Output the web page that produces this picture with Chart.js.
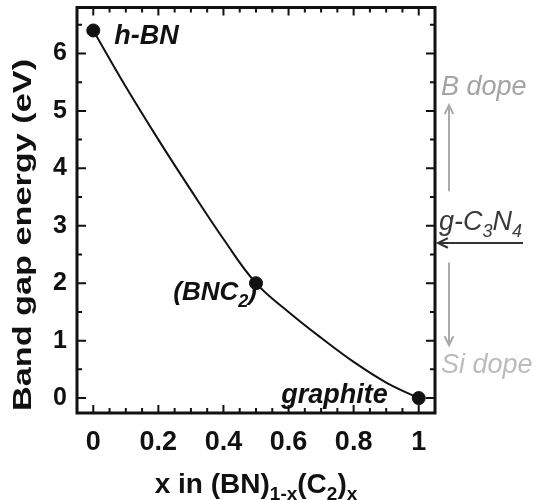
<!DOCTYPE html>
<html>
<head>
<meta charset="utf-8">
<script src="https://cdn.jsdelivr.net/npm/chart.js@4.4.1/dist/chart.umd.min.js"></script>
<style>
  body { margin: 0; background: #fff; }
  #wrap { width: 542px; height: 500px; }
</style>
</head>
<body>
<div id="wrap"><canvas id="gapChart"></canvas></div>
<script>
// fitted band gap curve
const curveX = [0, 0.1, 0.2, 0.3, 0.4, 0.5, 0.6, 0.7, 0.8, 0.9, 1];
const curveGap = [6.4, 5.42, 4.5, 3.62, 2.77, 2.0, 1.5, 1.05, 0.63, 0.27, 0];
// calculated points
const pointX = [0, 0.5, 1];
const pointGap = [6.4, 2.0, 0];
// axes
const xTicks = [0, 0.2, 0.4, 0.6, 0.8, 1];
const yTicks = [0, 1, 2, 3, 4, 5, 6];
// reference levels on the right side
const gC3N4Gap = 2.7;
const bDopeLevel = 5.44;
const siDopeLevel = 0.59;

const FONT = '"Liberation Sans", Arial, sans-serif';

function drawParts(ctx, parts, x, y, size, weight, style) {
    // draws text pieces left to right, subscripts smaller and lower
    let cx = x;
    parts.forEach(p => {
        const s = p.sub ? Math.round(size * 0.68) : size;
        ctx.font = `${style} ${weight} ${s}px ${FONT}`;
        ctx.fillText(p.t, cx, p.sub ? y + size * 0.25 : y);
        cx += ctx.measureText(p.t).width;
    });
    return cx - x;
}

function measureParts(ctx, parts, size, weight, style) {
    let w = 0;
    parts.forEach(p => {
        const s = p.sub ? Math.round(size * 0.68) : size;
        ctx.font = `${style} ${weight} ${s}px ${FONT}`;
        w += ctx.measureText(p.t).width;
    });
    return w;
}

function arrow(ctx, x1, y1, x2, y2, color, head) {
    const a = Math.atan2(y2 - y1, x2 - x1);
    ctx.strokeStyle = color;
    ctx.lineWidth = 2;
    ctx.beginPath();
    ctx.moveTo(x1, y1);
    ctx.lineTo(x2, y2);
    ctx.moveTo(x2 - head * Math.cos(a - 0.45), y2 - head * Math.sin(a - 0.45));
    ctx.lineTo(x2, y2);
    ctx.lineTo(x2 - head * Math.cos(a + 0.45), y2 - head * Math.sin(a + 0.45));
    ctx.stroke();
}

const framePlugin = {
    id: 'frame',
    afterDraw(chart) {
        const ctx = chart.ctx;
        const area = chart.chartArea;
        const xs = chart.scales.x;
        const ys = chart.scales.y;
        ctx.save();

        // frame
        ctx.strokeStyle = '#111';
        ctx.lineWidth = 3;
        ctx.strokeRect(area.left, area.top, area.right - area.left, area.bottom - area.top);

        // inward ticks
        ctx.lineWidth = 2;
        ctx.beginPath();
        for (let i = 0; i <= 20; i++) {
            const v = i * 0.05;
            const px = xs.getPixelForValue(v);
            const len = i % 4 === 0 ? 8 : 5;
            ctx.moveTo(px, area.bottom); ctx.lineTo(px, area.bottom - len);
            ctx.moveTo(px, area.top); ctx.lineTo(px, area.top + len);
        }
        for (let i = 0; i <= 13; i++) {
            const v = i * 0.5;
            const py = ys.getPixelForValue(v);
            const len = i % 2 === 0 ? 9 : 5;
            ctx.moveTo(area.left, py); ctx.lineTo(area.left + len, py);
            ctx.moveTo(area.right, py); ctx.lineTo(area.right - len, py);
        }
        ctx.stroke();

        // point labels
        ctx.fillStyle = '#111';
        ctx.textBaseline = 'alphabetic';
        ctx.textAlign = 'left';
        let px = xs.getPixelForValue(pointX[0]), py = ys.getPixelForValue(pointGap[0]);
        drawParts(ctx, [{t: 'h-BN'}], px + 21, py + 14, 27, 'bold', 'italic');

        px = xs.getPixelForValue(pointX[1]); py = ys.getPixelForValue(pointGap[1]);
        const bnc = [{t: '(BNC'}, {t: '2', sub: true}, {t: ')'}];
        const wb = measureParts(ctx, bnc, 26, 'bold', 'italic');
        drawParts(ctx, bnc, px + 1 - wb, py + 17, 26, 'bold', 'italic');

        px = xs.getPixelForValue(pointX[2]); py = ys.getPixelForValue(pointGap[2]);
        const wg = measureParts(ctx, [{t: 'graphite'}], 27, 'bold', 'italic');
        drawParts(ctx, [{t: 'graphite'}], px - 31 - wg, py + 5, 27, 'bold', 'italic');

        // right side levels
        const rx = area.right + 6;
        ctx.fillStyle = '#a4a4a4';
        drawParts(ctx, [{t: 'B dope'}], rx, ys.getPixelForValue(bDopeLevel) + 9, 27, 'normal', 'italic');
        ctx.fillStyle = '#bcbcbc';
        drawParts(ctx, [{t: 'Si dope'}], rx, ys.getPixelForValue(siDopeLevel) + 9, 27, 'normal', 'italic');
        ctx.fillStyle = '#3a3a3a';
        drawParts(ctx, [{t: 'g-C'}, {t: '3', sub: true}, {t: 'N'}, {t: '4', sub: true}], rx - 2,
            ys.getPixelForValue(gC3N4Gap) - 13, 27, 'normal', 'italic');

        const gy = ys.getPixelForValue(gC3N4Gap);
        arrow(ctx, area.right + 88, gy, area.right + 3, gy, '#333', 11);
        const ax = area.right + 14;
        arrow(ctx, ax, ys.getPixelForValue(3.6), ax, ys.getPixelForValue(5.1), '#aaa', 10);
        arrow(ctx, ax, ys.getPixelForValue(2.36), ax, ys.getPixelForValue(0.92), '#aaa', 10);

        // axis titles
        ctx.fillStyle = '#111';
        const xt = [{t: 'x in (BN)'}, {t: '1-x', sub: true}, {t: '(C'}, {t: '2', sub: true}, {t: ')'}, {t: 'x', sub: true}];
        const wx = measureParts(ctx, xt, 28, 'bold', 'normal');
        drawParts(ctx, xt, (area.left + area.right) / 2 - wx / 2, 493, 28, 'bold', 'normal');

        ctx.translate(24, 235);
        ctx.rotate(-Math.PI / 2);
        ctx.scale(1.37, 1);
        ctx.font = `bold 25px ${FONT}`;
        ctx.textAlign = 'center';
        ctx.textBaseline = 'middle';
        ctx.fillText('Band gap energy (eV)', 0, 0);
        ctx.restore();
    }
};

function gapChart(id) {
    const ctx = document.getElementById(id).getContext('2d');
    new Chart(ctx, {
        type: 'scatter',
        data: {
            datasets: [{
                data: curveX.map((x, i) => ({x: x, y: curveGap[i]})),
                showLine: true,
                borderColor: '#111',
                borderWidth: 2,
                pointRadius: 0,
                tension: 0.4
            }, {
                data: pointX.map((x, i) => ({x: x, y: pointGap[i]})),
                backgroundColor: '#111',
                borderColor: '#111',
                pointRadius: 6.5
            }]
        },
        options: {
            responsive: true,
            maintainAspectRatio: false,
            animation: false,
            layout: { padding: { left: 0, right: 107, top: 6, bottom: 0 } },
            plugins: { legend: { display: false }, tooltip: { enabled: false } },
            scales: {
                x: {
                    type: 'linear',
                    min: -0.05,
                    max: 1.05,
                    grid: { display: false, drawTicks: false },
                    border: { display: false },
                    afterBuildTicks: s => { s.ticks = xTicks.map(v => ({value: v})); },
                    afterFit: s => { s.height = 87; s.paddingLeft = 0; s.paddingRight = 0; },
                    ticks: {
                        padding: 13,
                        color: '#111',
                        maxRotation: 0,
                        font: { family: FONT, size: 27, weight: 'bold' },
                        callback: v => String(v)
                    }
                },
                y: {
                    type: 'linear',
                    min: -0.26,
                    max: 6.8,
                    grid: { display: false, drawTicks: false },
                    border: { display: false },
                    afterBuildTicks: s => { s.ticks = yTicks.map(v => ({value: v})); },
                    afterFit: s => { s.width = 77; s.paddingTop = 0; s.paddingBottom = 0; },
                    ticks: {
                        padding: 10,
                        color: '#111',
                        font: { family: FONT, size: 25, weight: 'bold' }
                    }
                }
            }
        },
        plugins: [framePlugin]
    });
}

gapChart('gapChart');
</script>
</body>
</html>
